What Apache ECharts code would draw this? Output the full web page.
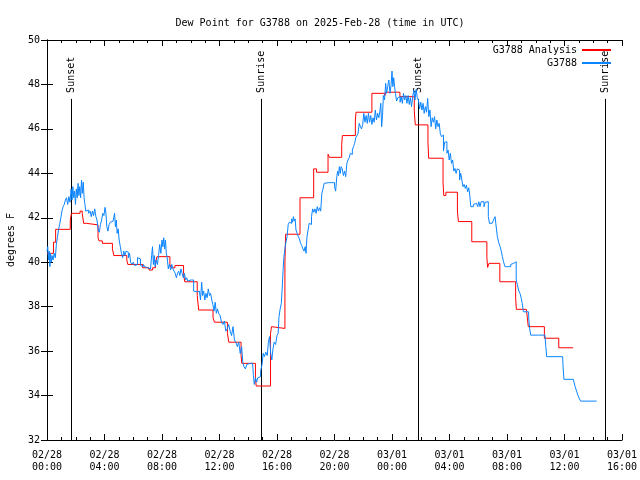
<!DOCTYPE html>
<html>
<head>
<meta charset="utf-8">
<script src="https://cdn.jsdelivr.net/npm/echarts@6/dist/echarts.min.js"></script>
<style>html,body{margin:0;padding:0;background:#fff}#c{width:640px;height:480px}</style>
</head>
<body>
<div id="c"></div>
<script>
// Hours since 2025-02-28 00:00 UTC
const xTickHours = [0,4,8,12,16,20,24,28,32,36,40];
const yTicks = [32,34,36,38,40,42,44,46,48,50];

const anaHours = [0.00,0.45,0.60,1.62,1.70,2.30,2.45,2.55,2.75,3.55,3.62,3.85,4.55,4.65,5.55,5.62,6.65,7.10,7.35,7.55,7.65,8.55,8.65,8.90,9.50,9.58,10.45,10.55,11.55,11.65,12.55,12.65,13.50,13.55,14.50,14.55,15.55,15.62,15.75,16.55,16.60,17.60,18.55,18.75,19.55,19.65,20.50,20.55,21.45,21.50,22.60,23.50,23.55,24.55,25.55,25.62,26.50,26.55,27.55,27.60,27.75,28.55,28.62,29.55,30.60,30.65,30.75,31.50,32.60,32.65,33.35,33.48,34.60,35.60,36.60];
const anaDewF = [40.4,40.9,41.48,41.9,42.2,42.3,42.2,41.75,41.68,41.1,40.96,40.85,40.6,40.3,40.1,39.9,39.75,39.65,39.75,40.0,40.25,39.9,39.75,39.85,39.5,39.12,38.5,37.85,37.5,37.3,36.8,36.4,35.8,35.45,34.8,34.43,36.8,37.1,37.02,40.0,41.26,42.9,44.2,44.05,44.86,44.72,45.3,45.7,46.4,46.75,47.6,47.5,47.65,47.45,46.8,46.18,45.4,44.68,43.6,43.0,43.15,42.3,41.83,40.92,40.2,39.77,39.95,39.12,38.4,37.88,37.95,37.1,36.58,36.15,36.15];

const obsHours = [0.00,0.05,0.10,0.15,0.20,0.25,0.30,0.35,0.42,0.50,0.58,0.65,0.72,0.80,0.88,0.96,1.04,1.12,1.20,1.28,1.36,1.44,1.52,1.60,1.68,1.74,1.80,1.86,1.92,1.98,2.04,2.10,2.16,2.22,2.28,2.34,2.40,2.46,2.52,2.58,2.64,2.70,2.80,2.90,3.00,3.08,3.16,3.24,3.32,3.40,3.48,3.56,3.64,3.72,3.80,3.88,3.96,4.04,4.10,4.16,4.24,4.32,4.40,4.50,4.60,4.70,4.76,4.82,4.88,4.95,5.02,5.10,5.18,5.26,5.34,5.42,5.50,5.58,5.66,5.74,5.82,5.90,6.00,6.10,6.20,6.30,6.40,6.50,6.60,6.70,6.80,6.90,7.00,7.10,7.20,7.28,7.34,7.40,7.46,7.52,7.60,7.68,7.76,7.84,7.92,8.00,8.06,8.12,8.18,8.24,8.30,8.36,8.44,8.52,8.60,8.68,8.76,8.84,8.92,9.00,9.08,9.16,9.24,9.32,9.40,9.48,9.56,9.64,9.72,9.80,9.90,10.00,10.10,10.20,10.30,10.45,10.60,10.68,10.76,10.82,10.90,10.98,11.06,11.14,11.22,11.30,11.38,11.46,11.54,11.62,11.70,11.78,11.86,11.94,12.04,12.14,12.24,12.34,12.44,12.54,12.64,12.74,12.84,12.94,13.04,13.14,13.24,13.34,13.44,13.54,13.62,13.70,13.80,13.90,14.00,14.15,14.30,14.36,14.42,14.50,14.58,14.66,14.76,14.86,14.96,15.04,15.12,15.22,15.32,15.40,15.48,15.56,15.64,15.72,15.80,15.90,16.00,16.08,16.14,16.22,16.30,16.36,16.42,16.48,16.55,16.62,16.70,16.78,16.86,16.94,17.02,17.08,17.14,17.20,17.26,17.32,17.40,17.48,17.56,17.64,17.72,17.80,17.88,17.96,18.02,18.08,18.16,18.24,18.32,18.40,18.48,18.56,18.64,18.72,18.80,18.88,18.96,19.04,19.12,19.20,19.28,19.40,19.60,19.80,19.92,20.00,20.08,20.16,20.22,20.28,20.34,20.40,20.46,20.54,20.62,20.70,20.78,20.86,20.94,21.02,21.10,21.18,21.24,21.32,21.40,21.48,21.56,21.64,21.72,21.80,21.88,21.96,22.04,22.12,22.20,22.28,22.36,22.44,22.52,22.60,22.68,22.76,22.84,22.92,23.00,23.08,23.16,23.22,23.28,23.34,23.40,23.48,23.56,23.62,23.70,23.78,23.86,23.94,24.00,24.06,24.12,24.18,24.24,24.32,24.40,24.48,24.56,24.64,24.72,24.80,24.88,24.96,25.04,25.12,25.20,25.28,25.36,25.44,25.52,25.60,25.68,25.76,25.84,25.92,26.00,26.08,26.16,26.24,26.32,26.40,26.48,26.56,26.64,26.72,26.80,26.88,26.96,27.04,27.12,27.20,27.28,27.36,27.44,27.52,27.58,27.66,27.74,27.82,27.90,27.98,28.06,28.14,28.22,28.30,28.38,28.46,28.54,28.62,28.70,28.78,28.86,28.94,29.02,29.10,29.18,29.26,29.34,29.42,29.48,29.56,29.66,29.76,29.88,29.96,30.04,30.12,30.20,30.30,30.40,30.48,30.58,30.70,30.78,30.86,30.96,31.06,31.17,31.22,31.33,31.42,31.52,31.60,31.68,31.76,31.86,31.96,32.06,32.16,32.26,32.36,32.46,32.58,32.64,32.72,32.80,32.90,32.98,33.06,33.14,33.50,33.52,33.58,33.65,34.20,34.25,34.64,34.70,34.76,35.87,35.90,35.96,36.61,36.66,36.74,36.84,36.94,37.04,37.12,38.24];
const obsDewF = [40.5,40.7,40.1,40.5,39.8,40.4,40.0,40.3,40.1,40.4,40.2,40.8,41.1,41.45,41.7,42.0,42.3,42.5,42.6,42.8,42.9,42.6,42.95,42.7,43.3,42.8,43.4,42.9,43.2,42.6,43.3,42.9,43.55,43.0,43.4,42.9,43.7,43.1,43.6,42.9,42.6,42.3,42.35,42.2,42.3,42.05,42.3,42.1,42.4,42.05,41.9,41.45,41.35,41.7,41.9,42.2,42.1,42.47,42.2,41.6,41.4,41.7,41.8,41.85,41.8,42.2,41.6,41.9,41.3,41.5,41.0,40.7,40.4,40.2,40.5,40.3,40.5,40.45,40.2,40.4,40.0,39.9,40.0,39.85,39.9,40.2,40.15,39.85,39.8,39.9,39.8,39.75,39.75,39.7,39.75,40.3,40.7,39.9,40.3,39.8,40.1,39.9,40.3,40.8,40.4,41.0,40.7,41.1,40.6,41.0,40.4,40.2,39.7,39.9,39.65,39.9,39.7,39.6,39.5,39.3,39.5,39.6,39.4,39.7,39.5,39.3,39.5,39.2,39.3,39.15,39.2,39.15,39.2,38.7,38.67,38.7,38.65,38.3,39.1,38.5,38.7,38.3,38.6,38.4,38.8,38.5,38.6,38.3,38.1,37.8,38.2,37.7,37.9,37.7,37.6,37.3,37.2,37.35,36.9,37.0,37.2,36.9,36.7,37.1,36.5,36.4,36.2,36.4,35.9,36.2,35.5,35.3,35.2,35.4,35.45,35.45,35.4,34.9,34.5,34.8,34.6,34.8,34.85,35.1,35.4,35.9,35.75,35.95,35.8,36.4,36.65,35.9,35.6,36.1,36.4,36.3,36.7,36.8,37.55,37.9,38.15,38.8,39.6,40.25,40.6,40.9,41.15,41.7,41.8,41.75,41.95,41.8,42.05,41.85,41.95,41.45,41.3,41.15,41.05,40.85,40.75,40.6,40.5,40.7,40.4,41.1,41.45,41.75,41.7,42.05,42.4,42.25,42.4,42.2,42.5,42.3,42.45,42.3,43.1,43.3,43.55,43.58,43.58,43.58,43.58,43.4,43.2,43.85,44.1,43.9,44.3,44.0,44.3,44.2,43.9,44.1,43.85,44.45,44.6,44.7,44.9,44.85,45.05,45.2,45.35,45.6,45.7,45.8,46.25,46.1,46.0,46.2,46.7,46.3,46.6,46.25,46.7,46.3,46.6,46.2,46.5,46.3,46.85,46.4,46.7,46.5,46.8,47.15,46.1,46.6,47.5,47.3,48.05,47.6,47.9,48.2,47.6,48.0,48.6,47.9,48.3,47.9,47.6,47.25,47.4,47.45,47.2,47.45,47.15,47.6,47.3,47.5,47.15,47.5,47.1,47.4,47.0,47.45,47.75,47.3,47.78,47.4,47.3,46.9,47.2,46.85,47.15,46.7,47.0,46.75,47.37,46.55,46.85,46.1,46.5,46.3,46.55,46.0,46.4,46.1,46.25,45.8,45.65,45.72,45.0,45.4,45.42,44.9,45.05,44.6,44.9,44.45,44.6,44.1,44.22,44.0,44.2,44.15,43.7,44.0,43.7,43.4,43.5,43.32,43.47,43.17,43.35,42.95,42.5,42.5,42.6,42.65,42.72,42.5,42.72,42.5,42.72,42.72,42.5,42.7,42.72,42.05,41.75,41.75,41.8,41.9,42.05,41.75,41.15,40.9,40.7,40.5,40.25,40.02,39.8,39.8,39.85,39.8,39.9,39.95,40.02,40.02,39.2,39.0,38.75,38.6,38.4,38.15,37.77,37.77,37.4,37.0,36.72,36.78,36.72,36.65,36.2,35.75,35.75,35.3,34.73,34.73,34.6,34.4,34.2,34.0,33.85,33.75,33.75];

const eventHours = [1.69, 14.89, 25.78, 38.84];
const eventNames = ['Sunset', 'Sunrise', 'Sunset', 'Sunrise'];
const eventLineTop = 47.35;

const FONT = 'DejaVu Sans Mono';
const Y_MIN = 32, Y_MAX = 50, X_MIN = 0, X_MAX = 40;

function fmtTime(h) {
  const day = h < 24 ? '02/28' : '03/01';
  const hh = Math.round(h % 24);
  return day + '\n' + (hh < 10 ? '0' : '') + hh + ':00';
}

const chart = echarts.init(document.getElementById('c'), null, {renderer: 'canvas'});
const axisCommon = {
  axisLine: {lineStyle: {color: '#000', width: 1}},
  splitLine: {show: false},
};
chart.setOption({
  animation: false,
  backgroundColor: '#fff',
  title: {
    text: 'Dew Point for G3788 on 2025-Feb-28 (time in UTC)',
    left: 'center', top: 13,
    textStyle: {fontFamily: FONT, fontSize: 10, fontWeight: 'normal', color: '#000'}
  },
  legend: {
    orient: 'vertical', right: 28, top: 45, padding: 0,
    align: 'right', itemWidth: 29, itemHeight: 10, itemGap: 3,
    itemStyle: {opacity: 0},
    textStyle: {fontFamily: FONT, fontSize: 10, color: '#000'},
    data: ['G3788 Analysis', 'G3788']
  },
  grid: {left: 47, right: 18, top: 40, bottom: 40, outerBoundsMode: 'none', containLabel: false},
  xAxis: [{
    type: 'value', min: X_MIN, max: X_MAX, interval: 4, position: 'bottom',
    ...axisCommon,
    axisTick: {inside: true, length: 6, lineStyle: {color: '#000'}},
    minorTick: {show: true, splitNumber: 4, length: 3, lineStyle: {color: '#000'}},
    axisLabel: {margin: 9, lineHeight: 12, fontFamily: FONT, fontSize: 10, color: '#000',
      formatter: v => fmtTime(v)}
  }, {
    type: 'value', min: X_MIN, max: X_MAX, interval: 4, position: 'top',
    ...axisCommon,
    axisTick: {inside: true, length: 6, lineStyle: {color: '#000'}},
    minorTick: {show: true, splitNumber: 4, length: 3, lineStyle: {color: '#000'}},
    axisLabel: {show: false}
  }],
  yAxis: [{
    type: 'value', min: Y_MIN, max: Y_MAX, interval: 2, position: 'left',
    ...axisCommon,
    name: 'degrees F', nameLocation: 'middle', nameGap: 31,
    nameTextStyle: {fontFamily: FONT, fontSize: 10, color: '#000'},
    axisTick: {inside: true, length: 6, lineStyle: {color: '#000'}},
    axisLabel: {margin: 7, fontFamily: FONT, fontSize: 10, color: '#000'}
  }, {
    type: 'value', min: Y_MIN, max: Y_MAX, interval: 2, position: 'right',
    ...axisCommon,
    axisTick: {inside: true, length: 6, lineStyle: {color: '#000'}},
    axisLabel: {show: false}
  }],
  series: [{
    type: 'custom',
    name: 'events',
    silent: true,
    xAxisIndex: 0, yAxisIndex: 0,
    data: eventHours.map(h => [h, Y_MIN]),
    renderItem: function (params, api) {
      const pb = api.coord([api.value(0), Y_MIN]);
      const pt = api.coord([api.value(0), eventLineTop]);
      const x = Math.round(pb[0]) + 0.5;
      return {type: 'group', children: [
        {type: 'line', shape: {x1: x, y1: pb[1], x2: x, y2: pt[1]},
          style: {stroke: '#000', lineWidth: 1}},
        {type: 'text', x: x, y: pt[1] - 6, rotation: Math.PI / 2,
          style: {text: eventNames[params.dataIndex], align: 'left', verticalAlign: 'middle',
            font: '10px ' + FONT, fill: '#000'}}
      ]};
    },
    z: 1
  }, {
    type: 'line', name: 'G3788 Analysis',
    data: anaHours.map((h, i) => [h, anaDewF[i]]),
    step: 'end', showSymbol: false, symbol: 'none',
    lineStyle: {color: '#ff0000', width: 1}, itemStyle: {color: '#ff0000'},
    z: 2
  }, {
    type: 'line', name: 'G3788',
    data: obsHours.map((h, i) => [h, obsDewF[i]]),
    step: 'end', showSymbol: false, symbol: 'none',
    lineStyle: {color: '#0a84ff', width: 1}, itemStyle: {color: '#0a84ff'},
    z: 3
  }]
});
</script>
</body>
</html>
